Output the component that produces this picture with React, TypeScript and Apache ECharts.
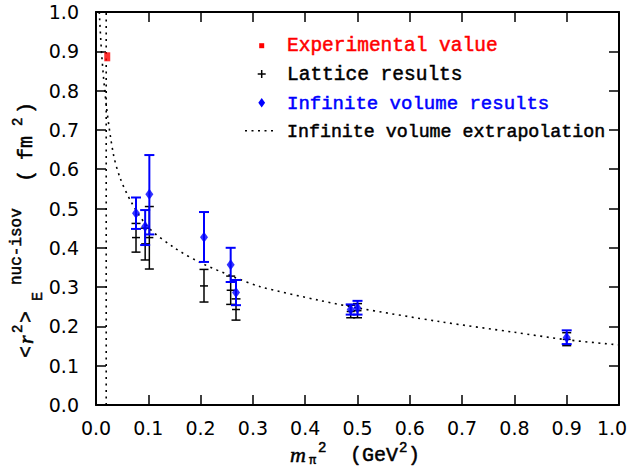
import React, { useEffect, useRef } from "react";
import * as echarts from "echarts";

// Lattice data: m_pi^2 (GeV^2), <r^2> (fm^2), lower and upper error limits
const latticeX = [0.0765, 0.094, 0.102, 0.2065, 0.2575, 0.2677, 0.487, 0.5, 0.9];
const latticeY = [0.426, 0.41, 0.426, 0.303, 0.292, 0.243, 0.238, 0.24, 0.167];
const latticeLow = [0.389, 0.369, 0.346, 0.262, 0.256, 0.216, 0.222, 0.222, 0.151];
const latticeHigh = [0.462, 0.45, 0.505, 0.345, 0.328, 0.27, 0.254, 0.258, 0.184];

// Infinite-volume corrected results
const infiniteX = [0.0765, 0.094, 0.102, 0.2065, 0.2575, 0.2677, 0.487, 0.5, 0.9];
const infiniteY = [0.488, 0.454, 0.536, 0.427, 0.357, 0.286, 0.243, 0.247, 0.172];
const infiniteLow = [0.448, 0.407, 0.434, 0.364, 0.313, 0.254, 0.23, 0.23, 0.155];
const infiniteHigh = [0.528, 0.496, 0.636, 0.491, 0.4, 0.318, 0.256, 0.265, 0.19];

// Experimental value at the physical pion mass
const experimentX = [0.0215];
const experimentY = [0.886];
const physicalPionMassSq = 0.0195;

// Infinite-volume extrapolation curve
const extrapX = [0.0063, 0.011, 0.0195, 0.033, 0.046, 0.068, 0.1, 0.15, 0.2, 0.263, 0.314, 0.428, 0.5, 0.658, 0.8, 0.9, 1.0];
const extrapY = [1.0, 0.89, 0.765, 0.64, 0.578, 0.515, 0.452, 0.4, 0.362, 0.326, 0.301, 0.266, 0.247, 0.212, 0.185, 0.166, 0.153];

// Axis ranges and tick spacing
const axisMin = 0;
const axisMax = 1;
const tickStep = 0.1;

const MONO = "Liberation Mono";
const SERIF = "Liberation Serif";
const SANS = "DejaVu Sans";
const BLUE = "#0000ff";
const RED = "#ff0000";
const DOTS = [2, 4.5];

function errorBars(color: string, lineWidth: number, capHalf: number, crossHalf: number) {
  return (_params: any, api: any) => {
    const x = api.value(0);
    const c = api.coord([x, api.value(1)]);
    const lo = api.coord([x, api.value(2)]);
    const hi = api.coord([x, api.value(3)]);
    const style = { stroke: color, lineWidth, fill: "none" };
    const children: any[] = [
      { type: "line", shape: { x1: c[0], y1: hi[1], x2: c[0], y2: lo[1] }, style },
      { type: "line", shape: { x1: c[0] - capHalf, y1: hi[1], x2: c[0] + capHalf, y2: hi[1] }, style },
      { type: "line", shape: { x1: c[0] - capHalf, y1: lo[1], x2: c[0] + capHalf, y2: lo[1] }, style },
    ];
    if (crossHalf > 0) {
      children.push({ type: "line", shape: { x1: c[0] - crossHalf, y1: c[1], x2: c[0] + crossHalf, y2: c[1] }, style });
    }
    return { type: "group", children };
  };
}

type Face = "mono" | "italic";

// Text placed by its alphabetic baseline
function label(text: string, x: number, baseline: number, size: number, color = "#000", face: Face = "mono"): any {
  return {
    type: "text",
    style: {
      text,
      x,
      y: baseline - 0.33 * size,
      fontSize: size,
      fontFamily: face === "italic" ? SERIF : MONO,
      fontStyle: face === "italic" ? "italic" : "normal",
      fontWeight: "normal",
      fill: color,
      stroke: color,
      lineWidth: 0.5,
      align: "left",
      textAlign: "left",
      verticalAlign: "middle",
      textVerticalAlign: "middle",
    },
  };
}

// Pieces of the rotated y-axis title: [text, screenYStart, screenXBaseline, size, face]
const yTitleParts: [string, number, number, number, Face][] = [
  ["<", 358, 33, 20, "mono"],
  ["r", 344, 33, 22, "italic"],
  ["2", 333, 23, 14, "mono"],
  [">", 323, 33, 20, "mono"],
  ["E", 301, 43, 15, "mono"],
  ["nuc-isov", 285, 22, 16, "mono"],
  ["(", 182, 33, 20, "mono"],
  ["fm", 160, 33, 20, "mono"],
  ["2", 126, 23, 14, "mono"],
  [")", 114, 33, 20, "mono"],
];

const Y_TITLE_ORIGIN_X = 33;
const Y_TITLE_ORIGIN_Y = 358;

export default function App() {
  const ref = useRef<HTMLDivElement>(null);

  useEffect(() => {
    if (!ref.current) return;
    const chart = echarts.init(ref.current, undefined, { renderer: "svg" });

    const tickFormatter = (v: number) =>
      Math.abs(v - axisMax) < 1e-9 ? "{last|" + v.toFixed(1) + "}" : v.toFixed(1);

    const baseAxis = {
      type: "value" as const,
      min: axisMin,
      max: axisMax,
      interval: tickStep,
      splitLine: { show: false },
      axisLine: { show: true, onZero: false, lineStyle: { color: "#000", width: 2 } },
      axisTick: { show: true, inside: true, length: 10, lineStyle: { color: "#000", width: 1.5 } },
    };

    const yTitle = {
      type: "group",
      x: Y_TITLE_ORIGIN_X,
      y: Y_TITLE_ORIGIN_Y,
      rotation: Math.PI / 2,
      children: yTitleParts.map(([t, sy, sx, size, face]) =>
        label(t, Y_TITLE_ORIGIN_Y - sy, sx - Y_TITLE_ORIGIN_X, size, "#000", face)
      ),
    };

    const legendX = 287;
    const legendSymX = 261.7;

    chart.setOption({
      animation: false,
      backgroundColor: "#fff",
      grid: { left: 96, right: 12, top: 12, bottom: 63, containLabel: false },
      xAxis: [
        {
          ...baseAxis,
          position: "bottom",
          axisLabel: {
            fontFamily: SANS,
            fontSize: 19,
            color: "#000",
            margin: 13,
            formatter: tickFormatter,
            rich: { last: { fontFamily: SANS, fontSize: 19, color: "#000", padding: [0, 14, 0, 0] } },
          },
        },
        { ...baseAxis, position: "top", axisLabel: { show: false } },
      ],
      yAxis: [
        {
          ...baseAxis,
          position: "left",
          axisLabel: {
            fontFamily: SANS,
            fontSize: 19,
            color: "#000",
            margin: 17,
            formatter: (v: number) => v.toFixed(1),
          },
        },
        { ...baseAxis, position: "right", axisLabel: { show: false } },
      ],
      series: [
        {
          type: "line",
          name: "Infinite volume extrapolation",
          data: extrapX.map((x, i) => [x, extrapY[i]]),
          smooth: 0.3,
          showSymbol: false,
          clip: true,
          lineStyle: { color: "#000", width: 1.6, type: DOTS },
        },
        {
          type: "line",
          data: [
            [physicalPionMassSq, axisMin],
            [physicalPionMassSq, axisMax],
          ],
          showSymbol: false,
          lineStyle: { color: "#000", width: 1.6, type: DOTS },
        },
        {
          type: "custom",
          name: "Lattice results",
          renderItem: errorBars("#000", 1.5, 4.5, 4),
          encode: { x: 0, y: 1 },
          data: latticeX.map((x, i) => [x, latticeY[i], latticeLow[i], latticeHigh[i]]),
          z: 3,
        },
        {
          type: "custom",
          name: "Infinite volume results",
          renderItem: errorBars(BLUE, 2, 5, 0),
          encode: { x: 0, y: 1 },
          data: infiniteX.map((x, i) => [x, infiniteY[i], infiniteLow[i], infiniteHigh[i]]),
          z: 4,
        },
        {
          type: "scatter",
          data: infiniteX.map((x, i) => [x, infiniteY[i]]),
          symbol: "diamond",
          symbolSize: [8, 11],
          itemStyle: { color: BLUE },
          z: 5,
        },
        {
          type: "scatter",
          name: "Experimental value",
          data: experimentX.map((x, i) => [x, experimentY[i]]),
          symbol: "rect",
          symbolSize: [6, 9],
          itemStyle: { color: RED },
          z: 5,
        },
      ],
      graphic: [
        // legend
        { type: "rect", shape: { x: legendSymX - 2.5, y: 43.2, width: 5, height: 5 }, style: { fill: RED } },
        label("Experimental value", legendX, 52.7, 19.5, RED),
        { type: "line", shape: { x1: legendSymX - 4, y1: 74, x2: legendSymX + 4, y2: 74 }, style: { stroke: "#000", lineWidth: 1.5 } },
        { type: "line", shape: { x1: legendSymX, y1: 70, x2: legendSymX, y2: 78 }, style: { stroke: "#000", lineWidth: 1.5 } },
        label("Lattice results", legendX, 81.7, 19.5),
        {
          type: "polygon",
          shape: { points: [[legendSymX, 98], [legendSymX + 3.4, 102.7], [legendSymX, 107.4], [legendSymX - 3.4, 102.7]] },
          style: { fill: BLUE },
        },
        label("Infinite volume results", legendX, 110, 19, BLUE),
        { type: "line", shape: { x1: 245, y1: 130.7, x2: 276, y2: 130.7 }, style: { stroke: "#000", lineWidth: 1.6, lineDash: DOTS } },
        label("Infinite volume extrapolation", legendX, 138.3, 18.3),
        // x-axis title
        label("m", 290, 462, 22, "#000", "italic"),
        label("π", 309, 465, 12),
        label("2", 318, 453, 14),
        label("(GeV", 350, 462, 20),
        label("2", 399, 453, 14),
        label(")", 408, 462, 20),
        // y-axis title
        yTitle,
      ],
    });

    return () => chart.dispose();
  }, []);

  return (
    <div
      ref={ref}
      style={{ position: "absolute", left: 0, top: 0, width: 631, height: 468, background: "#fff" }}
    />
  );
}
